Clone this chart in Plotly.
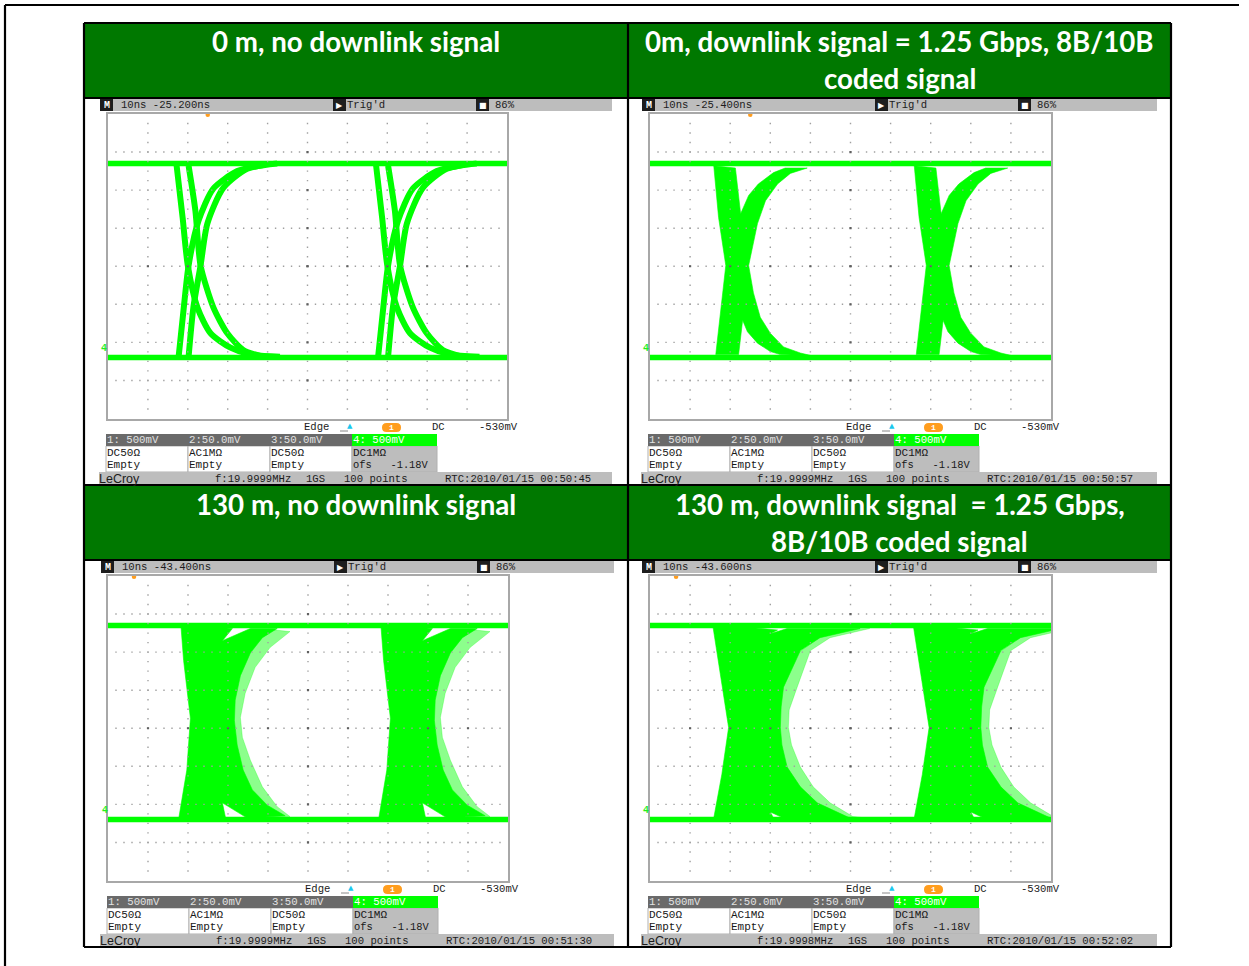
import plotly.graph_objects as go

W, H = 1249, 966

# ---------- data (time in ns, level in V) ----------
HIGH_LEVEL = 3.35
LOW_LEVEL = 0.80
PERIOD_NS = 50

# Panel 1: two thin strands per transition
p1_fall_a_t = [17.2, 18.7, 20.0, 22.4, 25.7, 30.7, 35.7, 43.1]
p1_fall_a_v = [3.32, 2.64, 2.01, 1.46, 1.12, 0.93, 0.84, 0.81]
p1_fall_b_t = [20.2, 21.9, 23.2, 26.4, 29.9, 33.9, 38.9]
p1_fall_b_v = [3.32, 2.73, 2.01, 1.46, 1.12, 0.90, 0.81]
p1_rise_a_t = [17.7, 19.0, 20.2, 22.7, 26.4, 32.4, 38.9]
p1_rise_a_v = [0.81, 1.46, 2.01, 2.60, 3.02, 3.25, 3.33]
p1_rise_b_t = [20.2, 21.4, 23.2, 24.9, 28.9, 34.9, 42.4]
p1_rise_b_v = [0.81, 1.46, 2.01, 2.56, 3.03, 3.28, 3.35]

# Panel 2: solid band outline
p2_band_t = [15.9, 17.1, 18.9, 17.6, 16.4, 22.1, 23.1, 24.3, 26.8, 30.0, 32.5, 40.7, 37.5, 33.3, 30.0, 27.5, 25.8, 24.6,
             25.6, 26.8, 28.8, 31.8, 35.0, 39.2, 33.7, 30.8, 27.0, 24.6, 22.6, 21.3]
p2_band_v = [3.32, 2.64, 2.01, 1.42, 0.84, 0.84, 1.29, 1.14, 0.99, 0.88, 0.84, 0.82, 0.86, 0.94, 1.12, 1.33, 1.65, 2.01,
             2.25, 2.56, 2.86, 3.08, 3.22, 3.29, 3.29, 3.23, 3.08, 2.93, 2.69, 3.29]

# Panel 3: pale jitter tail and solid core
p3_tail_t = [45.5, 42.3, 38.6, 35.6, 33.6, 33.1, 34.3, 36.8, 40.5, 45.5, 40.0, 30.0, 28.0, 30.0, 40.0]
p3_tail_v = [0.84, 0.97, 1.23, 1.58, 1.88, 2.14, 2.46, 2.80, 3.06, 3.27, 3.30, 2.80, 2.10, 1.50, 0.82]
p3_core_t = [18.2, 18.9, 20.6, 19.7, 17.7, 29.4, 28.6, 34.8, 44.3, 39.8, 36.1, 33.8, 32.3, 31.6, 31.8, 33.1, 35.6, 38.6,
             42.3, 35.6, 28.6, 31.1]
p3_core_v = [3.37, 2.89, 2.13, 1.45, 0.82, 0.82, 1.02, 0.82, 0.85, 0.99, 1.19, 1.45, 1.78, 2.10, 2.37, 2.69, 2.99, 3.19,
             3.31, 3.31, 3.15, 3.31]

# Panel 4: pale jitter tail and solid core
p4_tail_t = [54.1, 50.6, 44.9, 40.7, 37.5, 35.3, 34.5, 34.7, 36.7, 40.0, 44.9, 54.8, 45.0, 32.0, 30.0, 32.0, 45.0]
p4_tail_v = [0.82, 0.84, 1.02, 1.23, 1.49, 1.78, 2.01, 2.24, 2.54, 3.02, 3.19, 3.31, 3.30, 2.80, 2.00, 1.50, 0.82]
p4_core_t = [15.6, 17.6, 19.6, 17.9, 15.9, 30.8, 30.0, 33.3, 49.9, 41.7, 37.5, 34.2, 32.9, 32.5, 32.7, 33.3, 37.5, 42.4,
             52.4, 34.2, 30.0, 31.8]
p4_core_v = [3.37, 2.69, 2.01, 1.39, 0.82, 0.82, 0.90, 0.82, 0.82, 1.02, 1.23, 1.49, 1.78, 2.01, 2.28, 2.54, 3.02, 3.19,
             3.31, 3.31, 3.24, 3.29]

trigger_t = [25.0, 25.0, 6.5, 6.5]

titles = [
    ["0 m, no downlink signal"],
    ["0m, downlink signal = 1.25 Gbps, 8B/10B", "coded signal"],
    ["130 m, no downlink signal"],
    ["130 m, downlink signal\u00a0 = 1.25 Gbps,", "8B/10B coded signal"],
]
delays = ["10ns -25.200ns", "10ns -25.400ns", "10ns -43.400ns", "10ns -43.600ns"]
clocks = ["2010/01/15 00:50:45", "2010/01/15 00:50:57", "2010/01/15 00:51:30", "2010/01/15 00:52:02"]
freqs = ["f:19.9999MHz", "f:19.9999MHz", "f:19.9999MHz", "f:19.9998MHz"]
channel_heads = ["1: 500mV", "2:50.0mV", "3:50.0mV", "4: 500mV"]
channel_modes = ["DC50\u03a9", "AC1M\u03a9", "DC50\u03a9", "DC1M\u03a9"]
channel_memo = ["Empty", "Empty", "Empty", "ofs   -1.18V"]

t_major = [0, 10, 20, 30, 40, 50, 60, 70, 80, 90, 100]
v_major = [0, 0.5, 1, 1.5, 2, 2.5, 3, 3.5, 4]

# ---------- layout geometry ----------
plot_boxes = [(108, 114, 507, 418.5), (650, 114, 1051, 418.5), (108, 576, 508, 880.5), (650, 576, 1051, 880.5)]
panel_offsets = [(0, 0), (542, 0), (1, 462), (542, 462)]
bar_ends = [612, 615, 613, 615]
header_boxes = [(84, 23, 628, 98), (628, 23, 1171, 98), (84, 485, 628, 560), (628, 485, 1171, 560)]

GREEN = "#00ff00"
PALE = "rgba(0,255,0,0.45)"
MONO = "Liberation Mono"
TEXT = "#1c1c1c"
BAR = "#bdbdbd"

fig = go.Figure()
shapes, notes = [], []


def px(x):
    return x / W


def py(y):
    return 1 - y / H


def rect(x0, y0, x1, y1, fill, line=None, lw=0, layer="below"):
    shapes.append(dict(type="rect", xref="paper", yref="paper", x0=px(x0), x1=px(x1), y0=py(y0), y1=py(y1),
                       fillcolor=fill, line=dict(color=line or fill, width=lw), layer=layer))


def pill(x0, y0, x1, y1, fill):
    m = (y1 - y0) / 2
    path = (f"M {px(x0 + m)} {py(y0)} L {px(x1 - m)} {py(y0)} Q {px(x1)} {py(y0)} {px(x1)} {py(y0 + m)} "
            f"Q {px(x1)} {py(y1)} {px(x1 - m)} {py(y1)} L {px(x0 + m)} {py(y1)} "
            f"Q {px(x0)} {py(y1)} {px(x0)} {py(y0 + m)} Q {px(x0)} {py(y0)} {px(x0 + m)} {py(y0)} Z")
    shapes.append(dict(type="path", xref="paper", yref="paper", path=path, fillcolor=fill,
                       line=dict(width=0), layer="below"))


def seg(x0, y0, x1, y1, color, lw, layer="above"):
    shapes.append(dict(type="line", xref="paper", yref="paper", x0=px(x0), x1=px(x1), y0=py(y0), y1=py(y1),
                       line=dict(color=color, width=lw), layer=layer))


def txt(x, y, s, size=10.6, color=TEXT, family=MONO, anchor="left", bold=False):
    notes.append(dict(xref="paper", yref="paper", x=px(x), y=py(y), text=f"<b>{s}</b>" if bold else s,
                      showarrow=False, xanchor=anchor, yanchor="middle",
                      font=dict(family=family, size=size, color=color), borderpad=0, borderwidth=0))


def band(ax, t, v, color):
    for k in range(2):
        tt = [a + k * PERIOD_NS for a in t]
        fig.add_trace(go.Scatter(x=tt + tt[:1], y=v + v[:1], mode="lines", fill="toself", fillcolor=color,
                                 line=dict(width=0.6, color=color), hoverinfo="skip", showlegend=False,
                                 xaxis=f"x{ax}", yaxis=f"y{ax}"))


def strand(ax, t, v):
    for k in range(2):
        fig.add_trace(go.Scatter(x=[a + k * PERIOD_NS for a in t], y=v, mode="lines",
                                 line=dict(width=6, color=GREEN, shape="spline", smoothing=0.7),
                                 hoverinfo="skip", showlegend=False, xaxis=f"x{ax}", yaxis=f"y{ax}"))


layout_axes = {}
for i, (x0, y0, x1, y1) in enumerate(plot_boxes):
    ax = i + 1
    common = dict(showgrid=False, zeroline=False, showticklabels=False, ticks="", showline=True, mirror=True,
                  linecolor="#a8a8a8", linewidth=1.5)
    layout_axes[f"xaxis{ax}"] = dict(domain=[px(x0), px(x1)], range=[0, 100], anchor=f"y{ax}", **common)
    layout_axes[f"yaxis{ax}"] = dict(domain=[py(y1), py(y0)], range=[0, 4], anchor=f"x{ax}", **common)

    # eye diagram
    if i == 0:
        strand(ax, p1_fall_a_t, p1_fall_a_v)
        strand(ax, p1_fall_b_t, p1_fall_b_v)
        strand(ax, p1_rise_a_t, p1_rise_a_v)
        strand(ax, p1_rise_b_t, p1_rise_b_v)
    elif i == 1:
        band(ax, p2_band_t, p2_band_v, GREEN)
    elif i == 2:
        band(ax, p3_tail_t, p3_tail_v, PALE)
        band(ax, p3_core_t, p3_core_v, GREEN)
    else:
        band(ax, p4_tail_t, p4_tail_v, PALE)
        band(ax, p4_core_t, p4_core_v, GREEN)
    for level in (HIGH_LEVEL, LOW_LEVEL):
        fig.add_trace(go.Scatter(x=[0, 100], y=[level, level], mode="lines", line=dict(width=5.5, color=GREEN),
                                 hoverinfo="skip", showlegend=False, xaxis=f"x{ax}", yaxis=f"y{ax}"))

    # graticule
    gx, gy = [], []
    for v in v_major[1:-1]:
        for n in range(1, 50):
            gx.append(n * 2)
            gy.append(v)
    for t in t_major[1:-1]:
        for n in range(1, 32):
            gx.append(t)
            gy.append(n * 0.125)
    fig.add_trace(go.Scatter(x=gx, y=gy, mode="markers", marker=dict(symbol="square", size=1.4, color="#a0a0a0"),
                             hoverinfo="skip", showlegend=False, xaxis=f"x{ax}", yaxis=f"y{ax}"))
    cx = [t for t in t_major[1:-1]] + [50 for _ in v_major[1:-1]]
    cy = [2 for _ in t_major[1:-1]] + [v for v in v_major[1:-1]]
    fig.add_trace(go.Scatter(x=cx, y=cy, mode="markers", marker=dict(symbol="square", size=2.2, color="#606060"),
                             hoverinfo="skip", showlegend=False, xaxis=f"x{ax}", yaxis=f"y{ax}"))
    # trigger position marker
    fig.add_trace(go.Scatter(x=[trigger_t[i]], y=[3.99], mode="markers", marker=dict(size=4.5, color="#ff9d1e"),
                             cliponaxis=False, hoverinfo="skip", showlegend=False, xaxis=f"x{ax}", yaxis=f"y{ax}"))

    # scope chrome
    dx, dy = panel_offsets[i]
    end = dx + bar_ends[i]
    rect(dx + 100, dy + 99, end, dy + 111, BAR)
    rect(dx + 100, dy + 99, dx + 113, dy + 111, "#1d1d1d")
    txt(dx + 106.5, dy + 105, "M", 10, "#ffffff", anchor="center", bold=True)
    txt(dx + 121, dy + 105, delays[i])
    rect(dx + 333, dy + 99, dx + 346, dy + 111, "#1d1d1d")
    txt(dx + 339.5, dy + 105, "\u25b6", 8, "#ffffff", "DejaVu Sans", anchor="center")
    txt(dx + 347, dy + 105, "Trig'd")
    rect(dx + 476, dy + 99, dx + 489, dy + 111, "#1d1d1d")
    txt(dx + 482.5, dy + 105, "\u25a0", 8, "#ffffff", "DejaVu Sans", anchor="center")
    txt(dx + 495, dy + 105, "86%")

    txt(dx + 101, dy + 348, "4", 10, "#22ee22", anchor="left", bold=True)
    txt(dx + 304, dy + 427, "Edge")
    seg(dx + 340, dy + 431, dx + 348, dy + 431, "#8a8a8a", 1)
    txt(dx + 350, dy + 426, "\u25b2", 7, "#19c8ee", "DejaVu Sans", anchor="center")
    pill(dx + 382, dy + 423, dx + 401, dy + 432, "#ff9d1e")
    txt(dx + 391.5, dy + 427.5, "1", 8, "#ffffff", anchor="center", bold=True)
    txt(dx + 432, dy + 427, "DC")
    txt(dx + 479, dy + 427, "-530mV")

    cols = [106, 188, 270, 352, 437]
    for c in range(4):
        a, b = dx + cols[c], dx + cols[c + 1]
        rect(a, dy + 446, b, dy + 472, BAR if c == 3 else "#ffffff", "#b0b0b0", 1)
        rect(a, dy + 434, b, dy + 446, GREEN if c == 3 else "#6a6a6a")
        txt(a + 1, dy + 440, channel_heads[c], 10.7, "#ffffff" if c == 3 else "#e2e2e2")
        txt(a + 1, dy + 453, channel_modes[c], 11, "#181818")
        txt(a + 1, dy + 465, channel_memo[c], 11 if c < 3 else 10.4, "#181818")

    rect(dx + 99, dy + 472, end, dy + 485, BAR)
    txt(dx + 99, dy + 479, "LeCroy", 12.5, "#1c1c1c", "Liberation Sans")
    txt(dx + 215, dy + 479, freqs[i])
    txt(dx + 306, dy + 479, "1GS")
    txt(dx + 344, dy + 479, "100 points")
    txt(dx + 445, dy + 479, "RTC:" + clocks[i])

    # headline cell
    hx0, hy0, hx1, hy1 = header_boxes[i]
    rect(hx0, hy0, hx1, hy1, "#007800", layer="above")
    for n, line in enumerate(titles[i]):
        txt((hx0 + hx1) / 2, hy0 + 19 + n * 37, line, 27.7, "#ffffff", "Lato", anchor="center", bold=True)

# table rules and outer frame
for x0, y0, x1, y1 in [(84, 23, 1171, 23), (84, 98, 1171, 98), (84, 485, 1171, 485), (84, 560, 1171, 560),
                       (84, 947, 1171, 947), (84, 23, 84, 947), (628, 23, 628, 947), (1171, 23, 1171, 947)]:
    seg(x0, y0, x1, y1, "#000000", 2.2)
seg(5, 5, 1239, 5, "#000000", 2.2)
seg(5, 5, 5, 966, "#000000", 2.2)

fig.update_layout(width=W, height=H, margin=dict(l=0, r=0, t=0, b=0), paper_bgcolor="#ffffff",
                  plot_bgcolor="rgba(0,0,0,0)", showlegend=False, shapes=shapes, annotations=notes, **layout_axes)
fig.write_html("out.html", post_script="document.body.style.margin='0';", config=dict(displayModeBar=False))
